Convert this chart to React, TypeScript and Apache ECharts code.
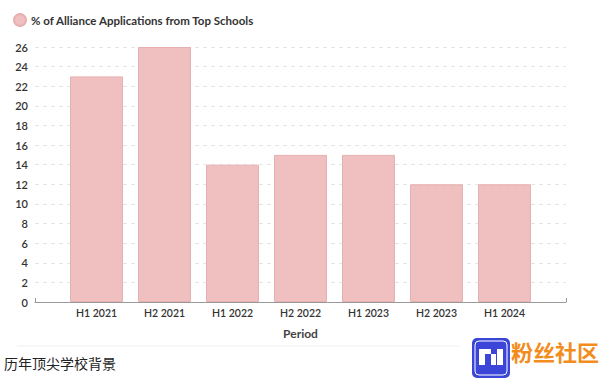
import React, { useEffect, useRef } from "react";
import * as echarts from "echarts";

const categories = ["H1 2021", "H2 2021", "H1 2022", "H2 2022", "H1 2023", "H2 2023", "H1 2024"];
const values = [23, 26, 14, 15, 15, 12, 12];
const seriesName = "% of Alliance Applications from Top Schools";
const xAxisName = "Period";
const caption = "历年顶尖学校背景";
const watermark = "粉丝社区";

export default function App() {
  const ref = useRef<HTMLDivElement>(null);
  useEffect(() => {
    document.body.style.margin = "0";
    if (!ref.current) return;
    const chart = echarts.init(ref.current, null, { renderer: "svg" });
    const font = "Lato, 'Noto Sans', sans-serif";
    const idx = categories.map((_, i) => i);
    chart.setOption({
      animation: false,
      textStyle: { fontFamily: font },
      legend: {
        left: 8,
        top: 8,
        icon: "circle",
        itemWidth: 12,
        itemHeight: 12,
        itemGap: 8,
        textStyle: { fontSize: 11.5, fontWeight: 700, color: "#333", fontFamily: font },
        data: [seriesName],
      },
      grid: { left: 35, right: 34, top: 47, bottom: 76 },
      xAxis: {
        type: "value",
        min: -0.905,
        max: 6.905,
        name: xAxisName,
        nameLocation: "middle",
        nameGap: 25,
        nameTextStyle: { fontSize: 12, fontWeight: 700, color: "#444", fontFamily: font },
        axisLine: { show: true, lineStyle: { color: "#999", width: 1 } },
        axisTick: { show: true, customValues: [-0.905, 6.905], length: -4, lineStyle: { color: "#999" } },
        axisLabel: {
          customValues: idx,
          formatter: (v: number) => categories[Math.round(v)] ?? "",
          fontSize: 10.5,
          color: "#333",
          fontWeight: 600,
          margin: 5,
          fontFamily: font,
        },
        splitLine: { show: false },
      },
      yAxis: {
        type: "value",
        min: 0,
        max: 26,
        interval: 2,
        axisLine: { show: false },
        axisTick: { show: false },
        axisLabel: { fontSize: 11, color: "#333", fontWeight: 600, margin: 7, fontFamily: font },
        splitLine: { show: true, lineStyle: { type: [4, 4], color: "#e6e6e6" } },
      },
      series: [
        {
          name: seriesName,
          type: "bar",
          barWidth: 53,
          data: values.map((v, i) => [i, v]),
          itemStyle: { color: "#f0bfbf", borderColor: "#e6b0b0", borderWidth: 1 },
        },
      ],
      graphic: [
        {
          type: "line",
          shape: { x1: 17, y1: 346, x2: 460, y2: 346 },
          style: { stroke: "#f0f0f0", lineWidth: 1 },
        },
        {
          type: "text",
          left: 4,
          top: 356,
          style: { text: caption, fontSize: 14, fill: "#222", fontFamily: "'Noto Sans CJK SC', sans-serif" },
        },
        {
          type: "rect",
          shape: { x: 472, y: 338, width: 38, height: 40, r: 5 },
          style: { fill: "#3b46d8" },
        },
        {
          type: "rect",
          shape: { x: 475, y: 341, width: 32, height: 34, r: 4 },
          style: { fill: "none", stroke: "#ffffff", lineWidth: 1 },
        },
        { type: "rect", shape: { x: 479, y: 349, width: 6, height: 16 }, style: { fill: "#ffffff" } },
        { type: "rect", shape: { x: 485, y: 349, width: 6, height: 5 }, style: { fill: "#ffffff" } },
        { type: "rect", shape: { x: 491, y: 354, width: 5, height: 11 }, style: { fill: "#ffffff" } },
        { type: "rect", shape: { x: 497, y: 349, width: 6, height: 16 }, style: { fill: "#ffffff" } },
        {
          type: "text",
          left: 511,
          top: 340,
          style: {
            text: watermark,
            fontSize: 22,
            fontWeight: "bold",
            fill: "#f28c1c",
            fontFamily: "'Noto Sans CJK SC', sans-serif",
          },
        },
      ],
    });
    return () => chart.dispose();
  }, []);
  return <div ref={ref} style={{ width: 600, height: 378 }} />;
}
